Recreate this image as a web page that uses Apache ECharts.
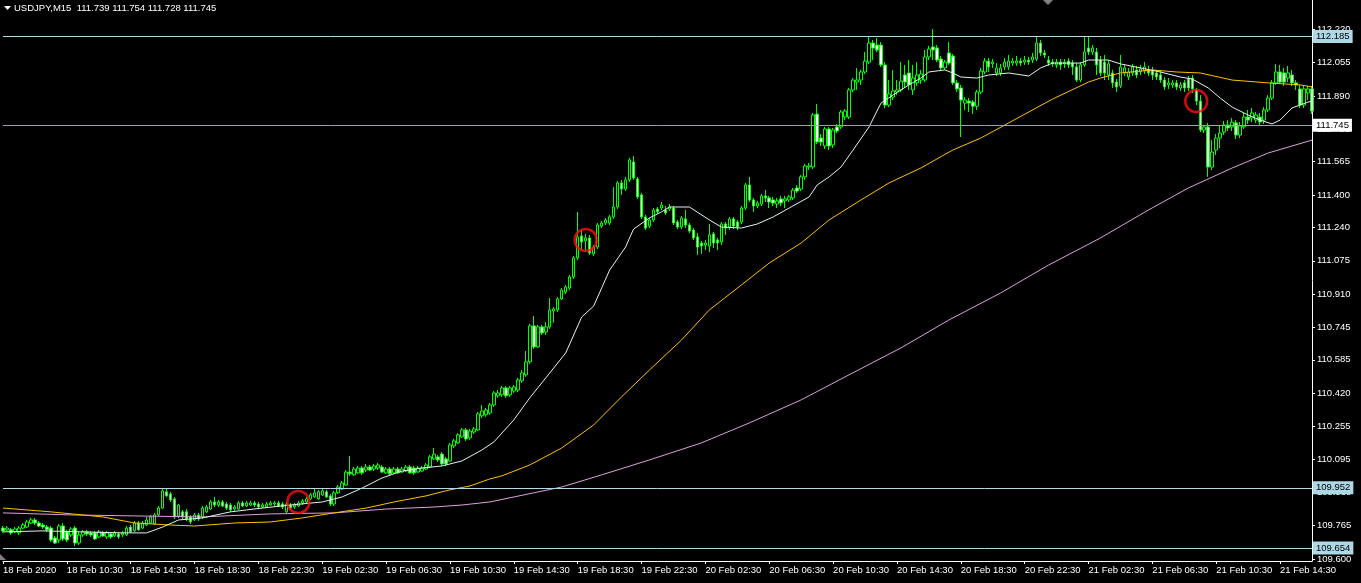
<!DOCTYPE html>
<html><head><meta charset="utf-8">
<script src="https://cdn.jsdelivr.net/npm/echarts@6/dist/echarts.min.js"></script>
<style>html,body{margin:0;padding:0;background:#000;}#c{width:1361px;height:583px;}</style>
</head><body><div id="c"></div>
<script>
const symbolTitle = 'USDJPY,M15  111.739 111.754 111.728 111.745';
const xTickLabels = ['18 Feb 2020','18 Feb 10:30','18 Feb 14:30','18 Feb 18:30','18 Feb 22:30','19 Feb 02:30','19 Feb 06:30','19 Feb 10:30','19 Feb 14:30','19 Feb 18:30','19 Feb 22:30','20 Feb 02:30','20 Feb 06:30','20 Feb 10:30','20 Feb 14:30','20 Feb 18:30','20 Feb 22:30','21 Feb 02:30','21 Feb 06:30','21 Feb 10:30','21 Feb 14:30'];
const yTickValues = [112.220,112.055,111.890,111.725,111.565,111.400,111.240,111.075,110.910,110.745,110.585,110.420,110.255,110.095,109.930,109.765,109.600];
// [open, high, low, close] per 15-minute bar
const ohlc = [
[109.753,109.763,109.729,109.739],[109.744,109.763,109.739,109.753],[109.744,109.753,109.719,109.729],[109.734,109.758,109.729,109.748],
[109.729,109.763,109.719,109.753],[109.753,109.778,109.748,109.768],[109.758,109.793,109.753,109.783],[109.778,109.803,109.773,109.793],
[109.793,109.803,109.768,109.778],[109.778,109.788,109.758,109.763],[109.768,109.778,109.748,109.758],[109.758,109.768,109.734,109.744],
[109.753,109.763,109.684,109.694],[109.704,109.714,109.674,109.679],[109.694,109.773,109.679,109.763],[109.763,109.778,109.689,109.699],
[109.734,109.744,109.684,109.694],[109.719,109.758,109.709,109.748],[109.753,109.763,109.664,109.679],[109.679,109.734,109.669,109.719],
[109.719,109.744,109.709,109.734],[109.734,109.744,109.714,109.724],[109.729,109.739,109.709,109.719],[109.729,109.739,109.694,109.699],
[109.709,109.744,109.704,109.734],[109.729,109.739,109.709,109.714],[109.709,109.739,109.699,109.729],[109.724,109.734,109.699,109.709],
[109.714,109.739,109.709,109.729],[109.724,109.734,109.699,109.709],[109.719,109.739,109.709,109.729],[109.719,109.763,109.714,109.753],
[109.758,109.768,109.729,109.734],[109.739,109.788,109.734,109.778],[109.778,109.788,109.739,109.744],[109.753,109.788,109.748,109.778],
[109.768,109.808,109.763,109.793],[109.778,109.818,109.773,109.808],[109.773,109.828,109.768,109.818],[109.818,109.862,109.813,109.852],
[109.852,109.946,109.847,109.937],[109.932,109.946,109.907,109.912],[109.922,109.932,109.882,109.892],[109.897,109.907,109.798,109.808],
[109.813,109.872,109.803,109.867],[109.833,109.843,109.798,109.808],[109.833,109.847,109.788,109.798],[109.808,109.818,109.773,109.783],
[109.793,109.828,109.788,109.818],[109.818,109.828,109.788,109.798],[109.808,109.862,109.798,109.852],[109.833,109.867,109.828,109.857],
[109.847,109.892,109.843,109.882],[109.882,109.907,109.857,109.867],[109.867,109.892,109.857,109.882],[109.882,109.892,109.857,109.862],
[109.872,109.882,109.843,109.852],[109.867,109.877,109.833,109.843],[109.847,109.867,109.838,109.857],[109.847,109.887,109.843,109.877],
[109.877,109.887,109.857,109.862],[109.862,109.887,109.857,109.877],[109.867,109.887,109.862,109.877],[109.877,109.887,109.857,109.867],
[109.872,109.882,109.852,109.857],[109.857,109.877,109.852,109.867],[109.857,109.882,109.852,109.872],[109.867,109.887,109.862,109.877],
[109.872,109.887,109.862,109.877],[109.877,109.887,109.857,109.862],[109.872,109.882,109.847,109.857],[109.833,109.882,109.828,109.872],
[109.867,109.877,109.843,109.852],[109.857,109.877,109.847,109.867],[109.862,109.887,109.857,109.877],[109.877,109.897,109.867,109.887],
[109.882,109.907,109.877,109.897],[109.897,109.927,109.892,109.917],[109.907,109.951,109.902,109.927],[109.897,109.942,109.892,109.932],
[109.917,109.946,109.912,109.937],[109.932,109.942,109.902,109.907],[109.912,109.922,109.862,109.872],[109.872,109.937,109.862,109.927],
[109.927,109.966,109.922,109.956],[109.946,109.986,109.942,109.976],[109.966,110.040,109.961,110.030],[110.030,110.110,110.011,110.021],
[110.016,110.055,110.011,110.045],[110.026,110.060,110.021,110.050],[110.050,110.060,110.016,110.026],[110.040,110.070,110.030,110.055],
[110.055,110.065,110.035,110.040],[110.045,110.070,110.035,110.060],[110.050,110.075,110.040,110.065],[110.055,110.065,110.026,110.030],
[110.026,110.055,110.021,110.045],[110.045,110.055,110.011,110.021],[110.026,110.055,110.021,110.045],[110.045,110.055,110.021,110.026],
[110.030,110.055,110.026,110.045],[110.035,110.065,110.030,110.055],[110.055,110.065,110.021,110.026],[110.050,110.060,110.016,110.026],
[110.030,110.060,110.026,110.050],[110.035,110.060,110.030,110.050],[110.045,110.075,110.040,110.065],[110.055,110.115,110.050,110.105],
[110.095,110.149,110.090,110.119],[110.105,110.115,110.080,110.090],[110.119,110.129,110.060,110.070],[110.095,110.105,110.060,110.070],
[110.085,110.174,110.080,110.164],[110.159,110.194,110.149,110.184],[110.174,110.223,110.169,110.214],[110.204,110.248,110.199,110.238],
[110.238,110.248,110.184,110.194],[110.199,110.243,110.189,110.233],[110.228,110.253,110.218,110.243],[110.238,110.327,110.233,110.318],
[110.308,110.362,110.298,110.332],[110.313,110.347,110.303,110.337],[110.322,110.372,110.313,110.362],[110.362,110.431,110.352,110.421],
[110.407,110.436,110.397,110.421],[110.412,110.456,110.402,110.446],[110.446,110.456,110.397,110.407],[110.412,110.456,110.402,110.446],
[110.431,110.461,110.421,110.451],[110.436,110.496,110.426,110.486],[110.481,110.535,110.471,110.520],[110.511,110.629,110.501,110.575],
[110.575,110.763,110.565,110.753],[110.753,110.802,110.639,110.649],[110.649,110.758,110.644,110.748],[110.748,110.758,110.708,110.718],
[110.723,110.772,110.708,110.748],[110.748,110.891,110.738,110.832],[110.827,110.846,110.768,110.837],[110.832,110.896,110.822,110.886],
[110.886,110.940,110.881,110.930],[110.920,110.955,110.910,110.945],[110.940,111.005,110.930,110.995],[110.995,111.099,110.985,111.089],
[111.089,111.317,111.079,111.193],[111.198,111.227,111.128,111.168],[111.173,111.208,111.123,111.188],[111.188,111.203,111.104,111.114],
[111.109,111.153,111.099,111.143],[111.143,111.262,111.133,111.252],[111.247,111.272,111.237,111.262],[111.262,111.287,111.252,111.277],
[111.262,111.302,111.252,111.292],[111.292,111.440,111.282,111.341],[111.341,111.470,111.331,111.460],[111.460,111.475,111.401,111.430],
[111.430,111.490,111.420,111.475],[111.475,111.584,111.465,111.574],[111.564,111.593,111.475,111.485],[111.480,111.490,111.381,111.391],
[111.401,111.411,111.282,111.292],[111.292,111.302,111.227,111.237],[111.247,111.287,111.237,111.277],[111.277,111.336,111.267,111.326],
[111.331,111.341,111.307,111.317],[111.336,111.366,111.326,111.351],[111.326,111.346,111.302,111.312],[111.331,111.356,111.321,111.341],
[111.336,111.346,111.252,111.262],[111.267,111.277,111.232,111.242],[111.242,111.297,111.232,111.287],[111.282,111.326,111.237,111.252],
[111.252,111.262,111.212,111.222],[111.227,111.237,111.178,111.188],[111.193,111.213,111.104,111.143],[111.163,111.173,111.109,111.148],
[111.153,111.178,111.128,111.163],[111.148,111.257,111.118,111.203],[111.208,111.218,111.138,111.163],[111.178,111.188,111.128,111.163],
[111.168,111.267,111.153,111.257],[111.257,111.267,111.203,111.237],[111.242,111.292,111.227,111.282],[111.282,111.292,111.232,111.247],
[111.267,111.277,111.227,111.242],[111.267,111.346,111.257,111.336],[111.336,111.460,111.326,111.450],[111.450,111.490,111.366,111.376],
[111.376,111.386,111.317,111.346],[111.346,111.371,111.336,111.361],[111.356,111.406,111.346,111.396],[111.396,111.425,111.366,111.386],
[111.386,111.396,111.336,111.366],[111.376,111.391,111.346,111.361],[111.356,111.386,111.336,111.371],[111.381,111.396,111.346,111.361],
[111.371,111.396,111.336,111.381],[111.376,111.401,111.366,111.391],[111.386,111.435,111.376,111.425],[111.435,111.450,111.411,111.420],
[111.430,111.499,111.420,111.490],[111.490,111.554,111.475,111.544],[111.539,111.559,111.524,111.544],[111.539,111.806,111.529,111.796],
[111.801,111.850,111.653,111.663],[111.682,111.702,111.643,111.663],[111.643,111.737,111.628,111.727],[111.727,111.737,111.623,111.643],
[111.648,111.732,111.633,111.722],[111.737,111.752,111.707,111.717],[111.737,111.821,111.727,111.811],[111.786,111.826,111.771,111.816],
[111.786,111.930,111.776,111.920],[111.920,111.979,111.910,111.969],[111.959,112.029,111.920,111.969],[111.969,112.019,111.945,112.009],
[112.009,112.108,111.999,112.063],[112.058,112.187,112.049,112.152],[112.152,112.167,112.068,112.127],[112.142,112.177,112.108,112.118],
[112.142,112.157,112.034,112.044],[112.044,112.058,111.831,111.845],[111.845,111.969,111.835,111.900],[111.885,112.019,111.870,111.915],
[111.910,111.969,111.895,111.920],[111.920,112.058,111.910,111.964],[111.994,112.044,111.930,111.959],[112.004,112.068,111.920,111.945],
[111.920,112.044,111.895,111.979],[111.955,112.058,111.940,111.994],[111.969,112.019,111.950,111.999],[111.969,112.118,111.959,112.083],
[112.083,112.138,112.068,112.123],[112.133,112.222,112.068,112.118],[112.128,112.142,112.058,112.068],[112.073,112.088,112.019,112.029],
[112.029,112.068,112.019,112.058],[112.103,112.157,112.044,112.053],[112.088,112.098,111.945,111.955],[111.955,111.969,111.910,111.925],
[111.930,111.945,111.687,111.870],[111.855,111.885,111.821,111.870],[111.865,111.880,111.811,111.855],[111.860,111.870,111.801,111.840],
[111.840,111.920,111.821,111.910],[111.910,112.029,111.900,112.014],[112.009,112.078,111.999,112.063],[112.063,112.078,112.009,112.034],
[112.049,112.073,112.029,112.058],[112.004,112.053,111.989,112.029],[112.004,112.049,111.989,112.029],[112.034,112.078,112.019,112.058],
[112.034,112.093,112.019,112.063],[112.053,112.078,112.039,112.063],[112.053,112.088,112.039,112.063],[112.063,112.078,112.039,112.053],
[112.058,112.088,112.044,112.068],[112.068,112.083,112.044,112.058],[112.068,112.103,112.053,112.083],[112.073,112.182,112.063,112.152],
[112.152,112.167,112.088,112.103],[112.103,112.118,112.078,112.093],[112.068,112.088,112.039,112.053],[112.058,112.073,112.034,112.049],
[112.044,112.073,112.029,112.058],[112.058,112.073,112.019,112.044],[112.049,112.073,112.029,112.058],[112.063,112.078,112.029,112.044],
[112.053,112.068,111.994,112.034],[112.034,112.053,111.959,111.969],[111.969,112.058,111.959,112.044],[112.044,112.182,112.034,112.108],
[112.128,112.182,112.093,112.108],[112.108,112.142,112.093,112.128],[112.108,112.128,111.994,112.044],[112.068,112.088,111.989,112.004],
[112.058,112.093,111.969,112.004],[111.994,112.068,111.969,112.049],[112.004,112.019,111.930,111.955],[111.959,111.974,111.910,111.935],
[111.940,112.093,111.930,112.034],[112.004,112.044,111.989,112.029],[111.984,112.029,111.969,112.009],[112.004,112.049,111.989,112.034],
[112.019,112.039,111.979,111.994],[112.009,112.044,111.994,112.024],[112.014,112.058,111.999,112.034],[112.019,112.039,111.989,112.004],
[112.014,112.034,111.969,111.994],[112.004,112.019,111.969,111.984],[111.994,112.014,111.955,111.969],[111.969,111.984,111.920,111.935],
[111.945,111.979,111.925,111.955],[111.945,111.969,111.930,111.955],[111.955,111.969,111.920,111.935],[111.930,111.959,111.915,111.945],
[111.955,111.969,111.910,111.930],[111.974,111.989,111.915,111.930],[111.979,111.994,111.905,111.925],[111.920,111.930,111.845,111.865],
[111.865,111.895,111.712,111.722],[111.722,111.747,111.707,111.737],[111.737,111.757,111.490,111.539],[111.539,111.672,111.524,111.613],
[111.623,111.702,111.598,111.682],[111.682,111.747,111.633,111.707],[111.712,111.767,111.697,111.747],[111.747,111.771,111.717,111.732],
[111.737,111.781,111.717,111.761],[111.757,111.771,111.677,111.697],[111.697,111.761,111.682,111.742],[111.737,111.806,111.727,111.786],
[111.786,111.821,111.752,111.771],[111.781,111.831,111.761,111.806],[111.771,111.811,111.757,111.796],[111.786,111.806,111.747,111.761],
[111.771,111.835,111.752,111.821],[111.821,111.895,111.811,111.880],[111.880,111.969,111.870,111.955],[111.955,112.049,111.945,112.009],
[112.009,112.044,111.950,111.959],[112.004,112.029,111.940,111.959],[111.979,112.039,111.959,112.004],[111.994,112.019,111.940,111.955],
[111.955,111.969,111.920,111.945],[111.925,111.945,111.831,111.845],[111.845,111.940,111.831,111.925],[111.905,111.940,111.870,111.925],
[111.925,111.940,111.801,111.816]
];
// moving averages: [bar index, price]
const maFast = [[0,109.734],[10,109.739],[20,109.734],[30,109.729],[36,109.729],[40,109.758],[44,109.793],[50,109.803],[57,109.833],[65,109.852],[72,109.867],[80,109.882],[85,109.907],[90,109.951],[95,110.001],[100,110.035],[105,110.050],[110,110.060],[115,110.085],[120,110.139],[123,110.179],[128,110.288],[132,110.397],[137,110.520],[141,110.619],[145,110.797],[148,110.851],[152,111.029],[156,111.143],[158,111.232],[162,111.287],[165,111.317],[167,111.341],[172,111.341],[177,111.277],[180,111.242],[185,111.237],[189,111.257],[193,111.292],[197,111.336],[202,111.391],[204,111.450],[207,111.490],[210,111.539],[213,111.623],[217,111.737],[220,111.855],[223,111.895],[227,111.945],[230,111.979],[232,112.009],[236,112.019],[238,112.004],[240,111.984],[244,111.979],[247,111.994],[252,112.004],[257,111.989],[260,112.029],[263,112.053],[270,112.053],[272,112.068],[277,112.068],[280,112.049],[285,112.029],[290,112.009],[295,111.984],[298,111.974],[302,111.930],[305,111.880],[308,111.835],[312,111.796],[315,111.771],[318,111.752],[320,111.771],[323,111.831],[327,111.860],[328,111.865]];
const maMid = [[0,109.852],[12,109.833],[25,109.808],[33,109.778],[42,109.768],[48,109.763],[58,109.778],[67,109.783],[75,109.803],[83,109.828],[91,109.852],[98,109.882],[106,109.912],[112,109.942],[117,109.961],[122,109.996],[125,110.011],[132,110.065],[140,110.149],[148,110.263],[155,110.402],[162,110.535],[170,110.683],[177,110.832],[185,110.955],[192,111.064],[200,111.163],[207,111.277],[215,111.376],[222,111.460],[230,111.534],[238,111.623],[245,111.682],[252,111.757],[263,111.875],[272,111.959],[275,111.979],[280,112.004],[288,112.019],[294,112.009],[300,112.004],[308,111.969],[317,111.955],[325,111.945],[328,111.935]];
const maSlow = [[0,109.828],[17,109.818],[33,109.813],[50,109.808],[67,109.823],[83,109.828],[96,109.847],[108,109.857],[115,109.867],[122,109.882],[140,109.956],[150,110.016],[162,110.090],[175,110.174],[187,110.273],[200,110.387],[212,110.511],[225,110.644],[237,110.782],[250,110.916],[262,111.054],[275,111.188],[287,111.326],[297,111.435],[308,111.534],[317,111.608],[328,111.672]];
const hLines = [112.185, 109.952, 109.654];
const bidPrice = 111.745;
const circleIdx = [74, 146, 299];
const circlePrice = [109.882, 111.178, 111.865];

const FONT = 'Liberation Sans';
const cats = ohlc.map((d, i) => String(i));
const lastIdx = ohlc.length - 1;
const chart = echarts.init(document.getElementById('c'), null, {renderer: 'canvas'});
const lblStyle = {show: true, position: 'end', distance: 1, fontSize: 9.5, fontFamily: FONT, padding: [2, 3, 1, 3]};
function priceLine(v, lineColor, bg) {
  return [
    {coord: [0, v], lineStyle: {color: lineColor, width: 1, type: 'solid'},
     label: Object.assign({}, lblStyle, {backgroundColor: bg, color: '#000', formatter: v.toFixed(3)})},
    {coord: [lastIdx, v]}
  ];
}
const mlData = hLines.map(v => priceLine(v, '#b0dce8', '#add8e6'));
mlData.push(priceLine(bidPrice, '#95a2b3', '#ffffff'));

chart.setOption({
  backgroundColor: '#000',
  animation: false,
  title: {text: symbolTitle, left: 14, top: 3, padding: 0, textStyle: {color: '#fff', fontSize: 9.5, fontWeight: 'normal', fontFamily: FONT}},
  grid: {left: 0, right: 49, top: 0, bottom: 22, containLabel: false},
  xAxis: {
    type: 'category', data: cats, boundaryGap: false,
    axisLine: {show: true, lineStyle: {color: '#fff', width: 1}},
    axisTick: {show: true, length: 3, interval: (i) => i % 16 === 0, lineStyle: {color: '#fff'}},
    axisLabel: {show: true, interval: (i) => i % 16 === 0, formatter: (v, i) => (xTickLabels[i / 16] || ''), align: 'left', color: '#fff', fontSize: 9.5, fontFamily: FONT, margin: 4},
    splitLine: {show: false}
  },
  yAxis: {
    type: 'value', position: 'right', min: 109.590, max: 112.365, scale: true,
    axisLine: {show: true, lineStyle: {color: '#fff', width: 1}},
    axisTick: {show: true, length: 3, customValues: yTickValues, lineStyle: {color: '#fff'}},
    axisLabel: {show: true, customValues: yTickValues, formatter: v => Number(v).toFixed(3), color: '#fff', fontSize: 9.5, fontFamily: FONT, margin: 5},
    splitLine: {show: false}
  },
  graphic: [
    {type: 'polygon', shape: {points: [[4, 6], [11, 6], [7.5, 10]]}, style: {fill: '#fff'}, silent: true},
    {type: 'polygon', shape: {points: [[1043, 0], [1053, 0], [1048, 5]]}, style: {fill: '#808080'}, silent: true},
    {type: 'polygon', shape: {points: [[0, 554], [0, 560], [6, 560]]}, style: {fill: '#808080'}, silent: true}
  ],
  series: [
    {
      type: 'candlestick', name: 'USDJPY', barWidth: 3,
      data: ohlc.map(d => [d[0], d[3], d[2], d[1]]),
      itemStyle: {color: '#000', color0: '#fff', borderColor: '#00ff00', borderColor0: '#00ff00', borderColorDoji: '#00ff00', borderWidth: 1},
      z: 2
    },
    {type: 'line', data: maSlow, showSymbol: false, silent: true, lineStyle: {color: '#dda0dd', width: 1}, z: 3,
      markLine: {silent: true, symbol: ['none', 'none'], precision: 3, animation: false, data: mlData}},
    {type: 'line', data: maMid, showSymbol: false, silent: true, lineStyle: {color: '#ffc000', width: 1}, z: 3},
    {type: 'line', data: maFast, showSymbol: false, silent: true, lineStyle: {color: '#e2f2f4', width: 1}, z: 3},
    {type: 'scatter', data: circleIdx.map((x, k) => [x, circlePrice[k]]), symbol: 'circle', symbolSize: 22, silent: true,
      itemStyle: {color: 'rgba(0,0,0,0)', borderColor: '#ff1010', borderWidth: 2.5}, z: 4}
  ]
});
</script></body></html>
